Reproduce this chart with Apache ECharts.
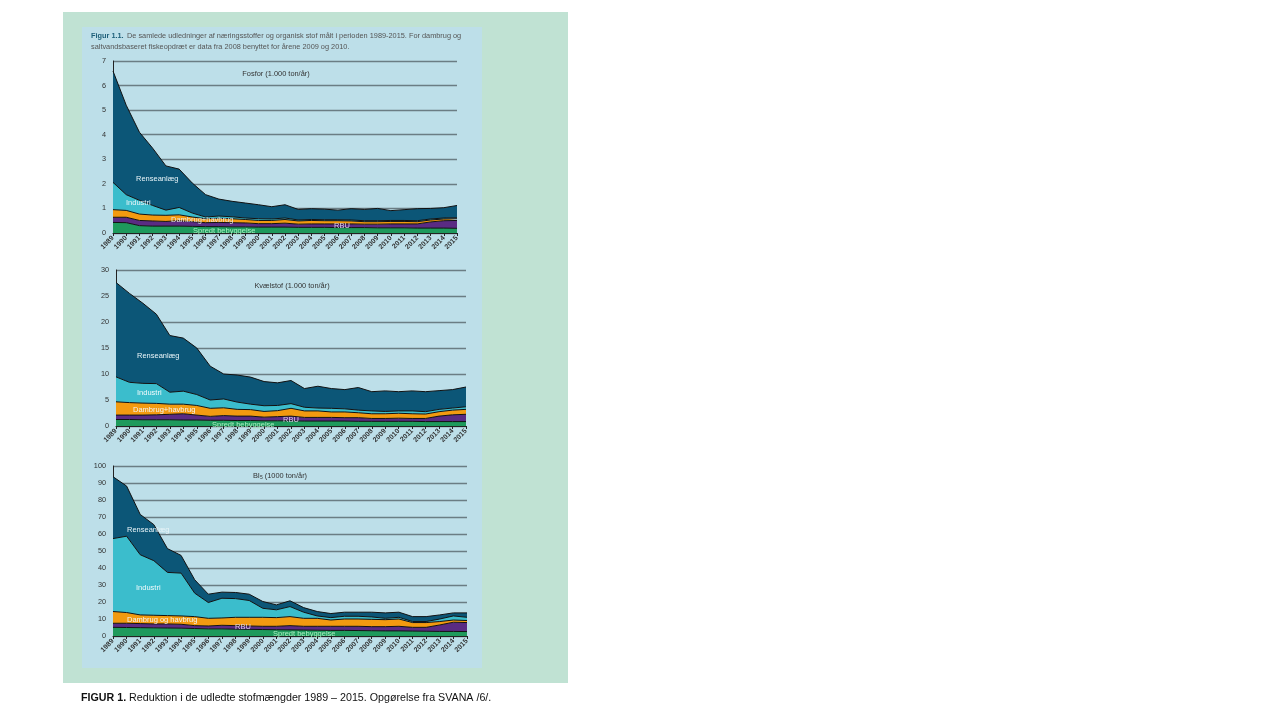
<!DOCTYPE html>
<html>
<head>
<meta charset="utf-8">
<script src="https://cdn.jsdelivr.net/npm/echarts@6/dist/echarts.min.js"></script>
<style>
html,body{margin:0;padding:0;background:#fff;}
#wrap{position:relative;width:1280px;height:720px;overflow:hidden;}
#green{position:absolute;left:63px;top:12px;width:505px;height:671px;background:#c0e2d3;}
#blue{position:absolute;left:82px;top:27px;width:400px;height:641px;background:#bddfe9;}
#chart{position:absolute;left:0;top:0;width:1280px;height:720px;}
</style>
</head>
<body>
<div id="wrap"><div id="green"></div><div id="blue"></div><div id="chart"></div></div>
<script>
const years = ['1989','1990','1991','1992','1993','1994','1995','1996','1997','1998','1999','2000','2001','2002','2003','2004','2005','2006','2007','2008','2009','2010','2011','2012','2013','2014','2015'];
const seriesNames = ['Spredt bebyggelse','RBU','Dambrug+havbrug','Industri','Renseanlæg'];

// Fosfor (1.000 ton/år)
const pSpredt = [0.43,0.42,0.30,0.28,0.28,0.28,0.27,0.26,0.26,0.25,0.25,0.24,0.24,0.24,0.23,0.23,0.23,0.22,0.22,0.22,0.21,0.21,0.21,0.20,0.20,0.20,0.19];
const pRBU = [0.21,0.22,0.21,0.21,0.19,0.22,0.19,0.16,0.17,0.17,0.16,0.14,0.14,0.16,0.13,0.14,0.14,0.15,0.15,0.14,0.15,0.16,0.16,0.17,0.25,0.30,0.32];
const pDambrug = [0.31,0.28,0.26,0.24,0.25,0.24,0.19,0.16,0.17,0.16,0.14,0.13,0.13,0.15,0.13,0.14,0.13,0.13,0.12,0.10,0.10,0.10,0.10,0.09,0.08,0.07,0.07];
const pIndustri = [1.11,0.64,0.56,0.39,0.21,0.30,0.16,0.07,0.09,0.08,0.06,0.07,0.06,0.06,0.04,0.04,0.04,0.04,0.04,0.04,0.04,0.04,0.04,0.04,0.04,0.04,0.04];
const pRense = [4.53,3.64,2.77,2.33,1.80,1.56,1.22,0.91,0.69,0.63,0.61,0.57,0.50,0.54,0.43,0.44,0.43,0.39,0.46,0.46,0.50,0.40,0.44,0.49,0.43,0.42,0.50];

// Kvælstof (1.000 ton/år)
const nSpredt = [1.25,1.25,1.2,1.2,1.2,1.15,1.15,1.1,1.1,1.05,1.05,1.0,1.0,1.0,0.95,0.95,0.95,0.95,0.9,0.9,0.9,0.9,0.9,0.85,0.85,0.85,0.85];
const nRBU = [0.85,0.85,0.9,0.95,1.05,1.2,0.95,0.75,0.9,0.85,0.85,0.7,0.8,0.9,0.7,0.7,0.7,0.65,0.7,0.55,0.55,0.6,0.55,0.6,1.05,1.3,1.4];
const nDambrug = [2.55,2.4,2.3,2.2,1.95,1.85,1.85,1.55,1.5,1.3,1.25,1.1,1.15,1.5,1.25,1.25,1.05,1.1,0.95,0.9,0.9,0.95,0.9,0.85,0.85,0.9,0.95];
const nIndustri = [4.8,3.9,3.8,3.8,2.3,2.5,2.1,1.6,1.7,1.4,1.05,1.1,1.0,0.9,0.7,0.55,0.7,0.6,0.5,0.55,0.45,0.45,0.55,0.45,0.45,0.4,0.5];
const nRense = [18.15,17.1,15.4,13.35,10.9,10.2,8.95,6.5,4.8,5.2,5.2,4.65,4.35,4.45,3.6,4.2,3.8,3.7,4.35,3.7,3.95,3.7,3.85,3.85,3.6,3.55,3.8];

// BI5 (1000 ton/år)
const bSpredt = [5.1,5.0,4.9,4.8,4.7,4.6,4.4,4.2,4.2,4.0,3.9,3.8,3.7,3.6,3.5,3.4,3.3,3.3,3.2,3.1,3.0,3.0,2.9,2.8,2.7,2.7,2.6];
const bRBU = [2.4,2.5,2.4,2.3,2.4,2.3,1.7,1.7,2.1,2.1,2.0,1.9,2.0,2.5,2.2,2.3,2.4,2.4,2.5,2.4,2.5,2.7,2.2,2.3,3.8,5.4,5.3];
const bDambrug = [6.9,6.3,5.1,5.1,4.9,4.9,5.3,4.5,4.3,4.9,5.1,5.3,5.1,5.3,4.7,4.7,3.7,4.3,4.3,4.3,4.1,4.3,2.8,2.8,2.0,1.3,1.2];
const bIndustri = [42.9,44.9,35.4,32.1,25.4,25.2,13.8,9.3,11.6,11.0,9.9,5.3,4.6,5.9,3.6,1.4,1.4,1.6,1.6,1.4,0.8,1.0,0.6,0.6,1.5,2.4,1.9];
const bRense = [36.4,29.5,23.7,21.2,14.0,10.4,7.9,4.9,3.6,3.6,3.7,4.0,2.9,3.4,2.7,2.6,2.4,2.4,2.4,2.8,3.2,3.0,2.9,2.9,2.4,1.8,2.6];

const yMax = [7, 30, 100];
const yStep = [1, 5, 10];

const colors = ['#1e9a5c','#5a2b83','#f29a10','#3bbdcc','#0c5677'];
const FONT = 'Liberation Sans';

const grids = [
  {left:113, right:1280-457, top:61, height:172},
  {left:116, right:1280-466, top:270, height:156},
  {left:113, right:1280-467, top:466, height:170}
];
const datasets = [
  [pSpredt,pRBU,pDambrug,pIndustri,pRense],
  [nSpredt,nRBU,nDambrug,nIndustri,nRense],
  [bSpredt,bRBU,bDambrug,bIndustri,bRense]
];

const xAxes = [], yAxes = [], series = [];
for (let g=0; g<3; g++){
  xAxes.push({
    type:'category', gridIndex:g, data:years, boundaryGap:false,
    axisLine:{show:true, lineStyle:{color:'#222', width:1}},
    axisTick:{show:true, length:3, alignWithLabel:true, interval:0, lineStyle:{color:'#222'}},
    axisLabel:{interval:0, rotate:45, fontSize:7, fontWeight:'bold', color:'#333', fontFamily:FONT, margin:4},
    splitLine:{show:false}
  });
  yAxes.push({
    type:'value', gridIndex:g, min:0, max:yMax[g], interval:yStep[g],
    axisLine:{show:true, lineStyle:{color:'#222', width:1}},
    axisTick:{show:false},
    axisLabel:{fontSize:7.3, color:'#333', fontFamily:FONT, margin:7},
    splitLine:{show:true, lineStyle:{color:'#6b7d84', width:1.3}}
  });
  for (let s=0; s<5; s++){
    series.push({
      name: seriesNames[s], type:'line', xAxisIndex:g, yAxisIndex:g,
      stack:'s'+g, data: datasets[g][s], symbol:'none', smooth:false,
      lineStyle:{color:'#111', width:1},
      areaStyle:{color:colors[s], opacity:1},
      itemStyle:{color:colors[s]},
      z: 2
    });
  }
}

function txt(x,y,text,opts){
  return {type:'text', x:x, y:y, z:100, style:Object.assign({text:text, fontSize:8, fontFamily:FONT, fill:'#fff', textVerticalAlign:'middle'}, opts||{})};
}

const graphics = [
  {type:'text', x:91, y:36, z:100, style:{rich:{b:{fontWeight:'bold', fill:'#1d5f79', fontSize:7.35, fontFamily:FONT}, n:{fill:'#555', fontSize:7.35, fontFamily:FONT}}, text:'{b|Figur 1.1.} {n|De samlede udledninger af næringsstoffer og organisk stof målt i perioden 1989-2015. For dambrug og}', textVerticalAlign:'middle'}},
  {type:'text', x:91, y:47, z:100, style:{text:'saltvandsbaseret fiskeopdræt er data fra 2008 benyttet for årene 2009 og 2010.', fill:'#555', fontSize:7.35, fontFamily:FONT, textVerticalAlign:'middle'}},
  txt(276,74,'Fosfor (1.000 ton/år)',{fill:'#333', fontSize:7.4, textAlign:'center'}),
  txt(292,286,'Kvælstof (1.000 ton/år)',{fill:'#333', fontSize:7.4, textAlign:'center'}),
  {type:'text', x:280, y:476, z:100, style:{rich:{n:{fill:'#333', fontSize:7.4, fontFamily:FONT}, s:{fill:'#333', fontSize:5, fontFamily:FONT, verticalAlign:'bottom', padding:[3,0,0,0]}}, text:'{n|BI}{s|5}{n| (1000 ton/år)}', textAlign:'center', textVerticalAlign:'middle'}},
  // chart 1 labels
  txt(136,179,'Renseanlæg',{fontSize:7.5, fill:'#e8f4f8'}),
  txt(126,203,'Industri',{fontSize:7.5, fill:'#e8f4f8'}),
  txt(171,220,'Dambrug+havbrug',{fontSize:7.5, fill:'#e6e6e6'}),
  txt(334,226,'RBU',{fontSize:7.5, fill:'#d8d0e8'}),
  txt(193,231,'Spredt bebyggelse',{fontSize:7.5, fill:'#a9efc0'}),
  // chart 2 labels
  txt(137,356,'Renseanlæg',{fontSize:7.5, fill:'#e8f4f8'}),
  txt(137,393,'Industri',{fontSize:7.5, fill:'#f0fafc'}),
  txt(133,410,'Dambrug+havbrug',{fontSize:7.5, fill:'#f4f4f4'}),
  txt(283,420,'RBU',{fontSize:7.5, fill:'#d8d0e8'}),
  txt(212,425,'Spredt bebyggelse',{fontSize:7.5, fill:'#a9efc0'}),
  // chart 3 labels
  txt(127,530,'Renseanlæg',{fontSize:7.5, fill:'#e8f4f8'}),
  txt(136,588,'Industri',{fontSize:7.5, fill:'#f0fafc'}),
  txt(127,620,'Dambrug og havbrug',{fontSize:7.5, fill:'#f4f4f4'}),
  txt(235,627,'RBU',{fontSize:7.5, fill:'#d8d0e8'}),
  txt(273,634,'Spredt bebyggelse',{fontSize:7.5, fill:'#a9efc0'}),
  // caption
  {type:'text', x:81, y:698, z:100, style:{rich:{b:{fontWeight:'bold', fill:'#111', fontSize:10.7, fontFamily:FONT}, n:{fill:'#111', fontSize:10.7, fontFamily:FONT}}, text:'{b|FIGUR 1.}{n| Reduktion i de udledte stofmængder 1989 – 2015. Opgørelse fra SVANA /6/.}', textVerticalAlign:'middle'}}
];

const chart = echarts.init(document.getElementById('chart'), null, {renderer:'canvas'});
chart.setOption({
  backgroundColor:'transparent',
  animation:false,
  grid: grids,
  xAxis: xAxes,
  yAxis: yAxes,
  series: series,
  graphic: graphics
});
</script>
</body>
</html>
